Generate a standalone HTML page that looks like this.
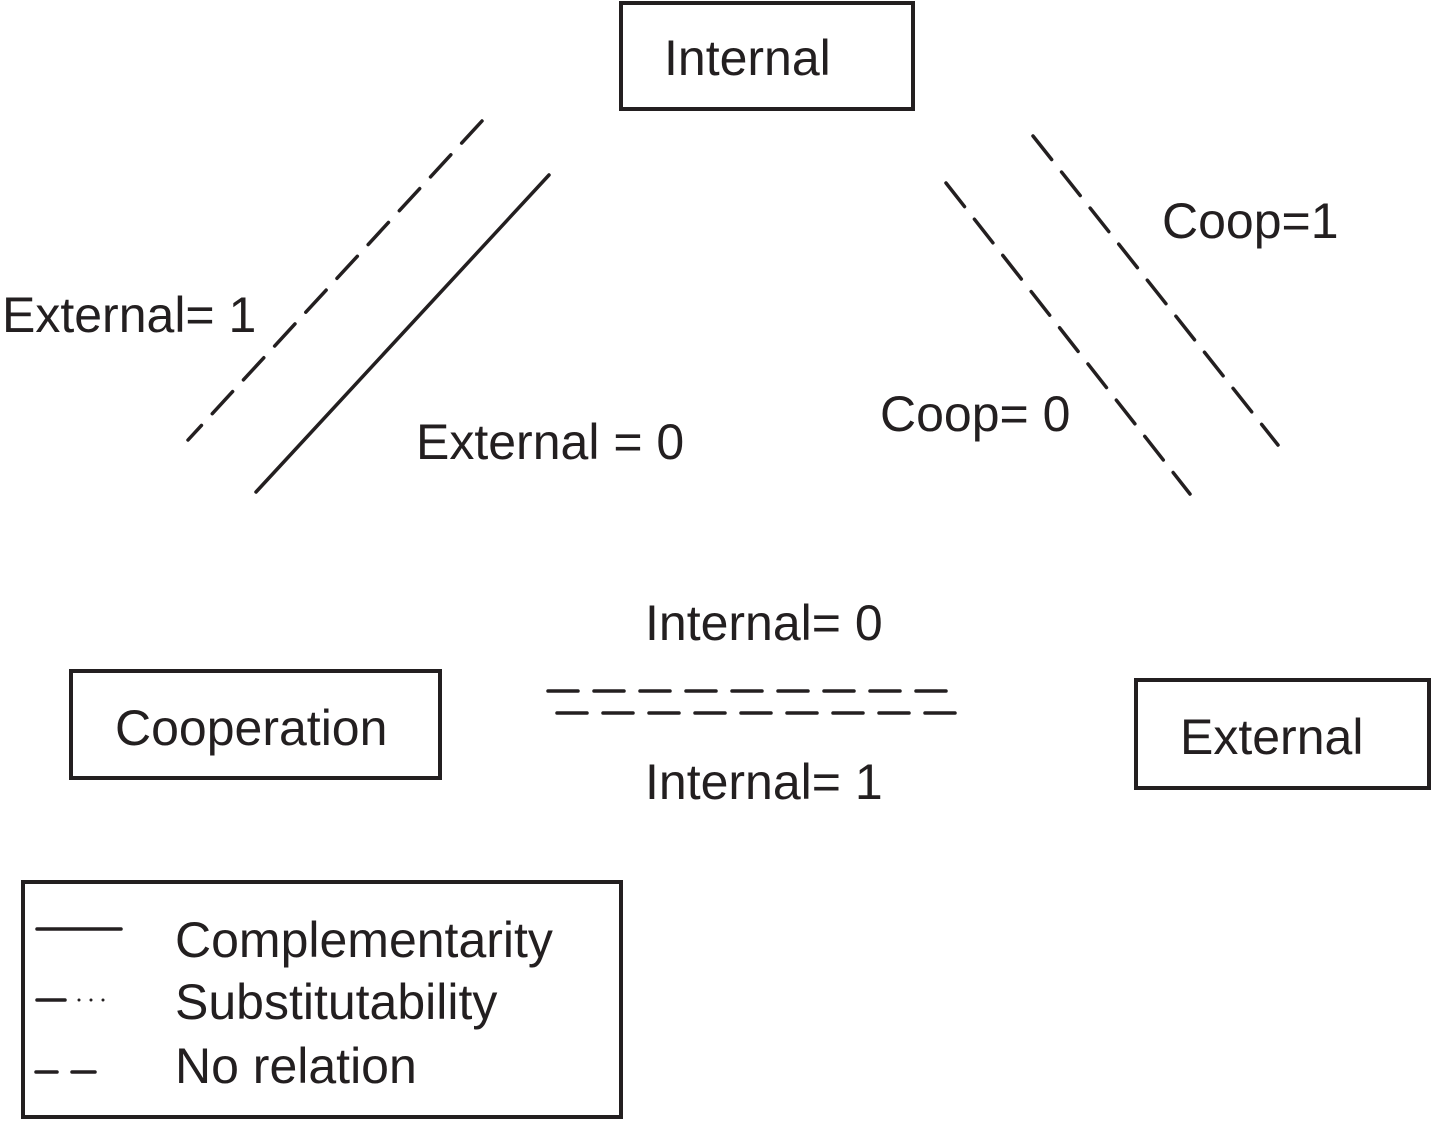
<!DOCTYPE html>
<html><head><style>html,body{margin:0;padding:0;background:#fff}</style></head>
<body>
<svg width="1431" height="1120" viewBox="0 0 1431 1120" xmlns="http://www.w3.org/2000/svg" font-family="Liberation Sans, Arial, sans-serif" fill="#231f20">
<g fill="none" stroke="#231f20" stroke-width="4">
<rect x="621" y="3" width="292" height="106"/>
<rect x="71" y="671" width="369" height="107"/>
<rect x="1136" y="680" width="293" height="108"/>
<rect x="23" y="882" width="598" height="235"/>
</g>
<g stroke="#231f20" stroke-width="3.5" stroke-linecap="round" fill="none">
<line x1="549" y1="175" x2="256" y2="492"/>
<g stroke-dasharray="30 16">
<line x1="482" y1="121" x2="188" y2="440"/>
<line x1="946" y1="183" x2="1190" y2="494"/>
<line x1="1033" y1="136" x2="1278" y2="445"/>
<line x1="548" y1="691" x2="960" y2="691"/>
<line x1="557" y1="713" x2="970" y2="713"/>
</g>
<line x1="37" y1="929" x2="121" y2="929"/>
<line x1="37" y1="1000" x2="65" y2="1000"/>
<line x1="36" y1="1072" x2="57" y2="1072"/>
<line x1="72" y1="1072" x2="95" y2="1072"/>
</g>
<g fill="#231f20"><circle cx="79" cy="1000" r="1.5"/><circle cx="91" cy="1000" r="1.5"/><circle cx="103" cy="1000" r="1.5"/></g>
<g font-size="50">
<text x="664" y="75">Internal</text>
<text x="115" y="745">Cooperation</text>
<text x="1180" y="754">External</text>
<text x="2" y="332">External= 1</text>
<text x="416" y="459">External = 0</text>
<text x="1162" y="238">Coop=1</text>
<text x="880" y="431">Coop= 0</text>
<text x="645" y="640">Internal= 0</text>
<text x="645" y="799">Internal= 1</text>
<text x="175" y="957">Complementarity</text>
<text x="175" y="1019">Substitutability</text>
<text x="175" y="1083">No relation</text>
</g>
</svg>
</body></html>
